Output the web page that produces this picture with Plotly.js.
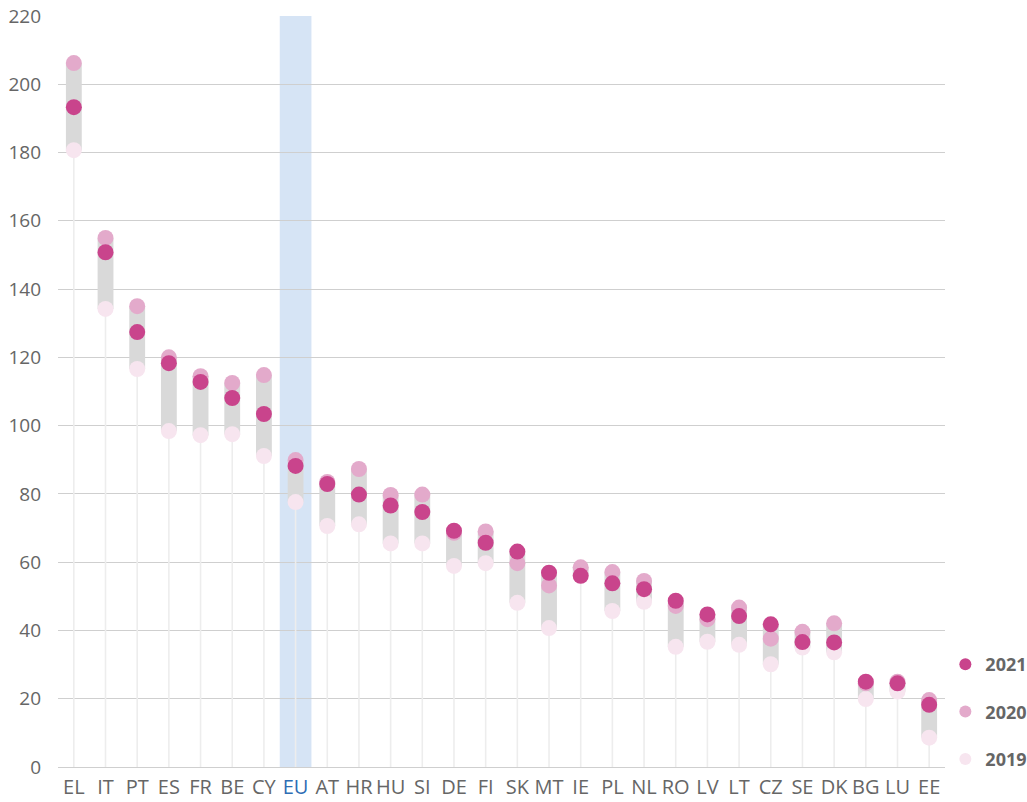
<!DOCTYPE html>
<html>
<head>
<meta charset="utf-8">
<script src="https://cdn.plot.ly/plotly-3.0.1.min.js"></script>
<style>html,body{margin:0;padding:0;background:#fff;}#chart{width:1027px;height:802px;}</style>
</head>
<body>
<div id="chart"></div>
<script>
const countries = ["EL","IT","PT","ES","FR","BE","CY","EU","AT","HR","HU","SI","DE","FI","SK","MT","IE","PL","NL","RO","LV","LT","CZ","SE","DK","BG","LU","EE"];
const v2019 = [180.7,134.2,116.6,98.4,97.2,97.5,91.1,77.6,70.6,71.1,65.5,65.5,58.9,59.7,48.1,40.7,56.0,45.7,48.4,35.2,36.7,35.8,30.1,35.0,33.6,19.9,22.1,8.6];
const v2020 = [206.2,155.0,135.0,120.0,114.5,112.5,114.8,89.9,83.5,87.3,79.7,79.8,68.6,69.0,59.7,53.2,58.5,57.1,54.5,47.2,43.3,46.7,37.6,39.6,42.1,24.5,25.0,19.6];
const v2021 = [193.3,150.8,127.4,118.3,112.8,108.1,103.4,88.2,82.9,79.8,76.6,74.7,69.2,65.7,63.1,56.9,56.0,53.8,52.1,48.7,44.7,44.2,41.8,36.6,36.5,25.0,24.5,18.2];
const years = ["2021","2020","2019"];
const highlight = "EU";

const mins = countries.map((c,i)=>Math.min(v2019[i],v2020[i],v2021[i]));
const maxs = countries.map((c,i)=>Math.max(v2019[i],v2020[i],v2021[i]));
const idx = countries.map((c,i)=>i);

const FONT = "Open Sans, Noto Sans, sans-serif";
const TXT = "#666666";

const traces = [
  {type:"bar", x:idx, y:mins, base:0, width:0.05, marker:{color:"#ededed"}, showlegend:false, hoverinfo:"skip"},
  {type:"bar", x:idx, y:maxs.map((m,i)=>m-mins[i]), base:mins, width:0.5, marker:{color:"#d9d9d9"}, showlegend:false, hoverinfo:"skip"},
  {type:"scatter", mode:"markers", name:years[2], x:idx, y:v2019, marker:{size:16, color:"#f7e5ef"}, legendgroup:"c", legendrank:3},
  {type:"scatter", mode:"markers", name:years[1], x:idx, y:v2020, marker:{size:16, color:"#e3aacb"}, legendgroup:"b", legendrank:2},
  {type:"scatter", mode:"markers", name:years[0], x:idx, y:v2021, marker:{size:16, color:"#c9448c"}, legendgroup:"a", legendrank:1}
];

const hi = countries.indexOf(highlight);
const layout = {
  width:1027, height:802,
  margin:{l:58, r:82, t:16, b:35},
  paper_bgcolor:"#fff", plot_bgcolor:"#fff",
  barmode:"overlay",
  font:{family:FONT, color:TXT, size:18},
  showlegend:true,
  legend:{xref:"container", yref:"container", x:0.9205, xanchor:"left", y:0.03, yanchor:"bottom",
          traceorder:"grouped", tracegroupgap:21,
          font:{family:FONT, size:18, color:TXT, weight:"bold"}, itemsizing:"constant", itemwidth:30, bgcolor:"rgba(0,0,0,0)"},
  xaxis:{range:[-0.5, countries.length-0.5], tickmode:"array", tickvals:idx,
         ticktext:countries.map(c=> c===highlight ? '<span style="color:#2e6db4">'+c+'</span>' : c),
         showgrid:false, zeroline:false, showline:false, ticks:"", tickfont:{size:20, color:TXT}, ticklabelstandoff:6, fixedrange:true},
  yaxis:{range:[0,220], dtick:20, gridcolor:"#cfcfcf", gridwidth:1, zeroline:true, zerolinecolor:"#cfcfcf",
         showline:false, ticks:"", tickfont:{size:19, color:TXT}, ticklabelstandoff:16, fixedrange:true},
  shapes:[{type:"rect", xref:"x", yref:"y", x0:hi-0.5, x1:hi+0.5, y0:0, y1:220, fillcolor:"#d6e4f5", line:{width:0}, layer:"below"}]
};
Plotly.newPlot("chart", traces, layout, {displayModeBar:false, staticPlot:true});
</script>
</body>
</html>
